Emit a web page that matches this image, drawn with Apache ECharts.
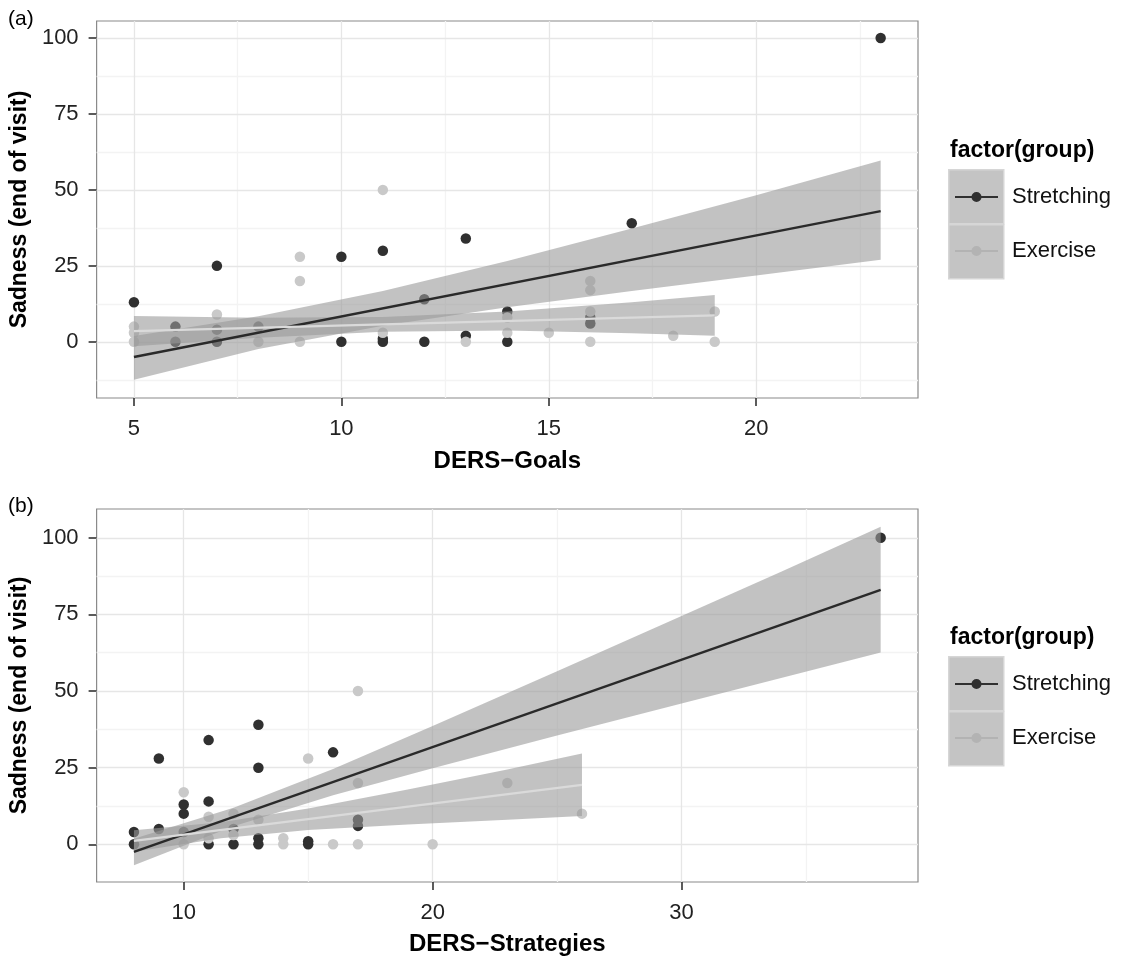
<!DOCTYPE html>
<html><head><meta charset="utf-8">
<script src="https://cdn.jsdelivr.net/npm/echarts@6.0.0/dist/echarts.min.js"></script>
<style>html,body{margin:0;padding:0;background:#fff}#c{width:1123px;height:960px}</style>
</head><body><div id="c"></div><script>
// ---------- data ----------
const groups = ['Stretching', 'Exercise'];
const sadnessTicks = [0, 25, 50, 75, 100];
const sadnessMinorA = [-12.5, 12.5, 37.5, 62.5, 87.5];
const sadnessMinorB = [12.5, 37.5, 62.5, 87.5];
const goalsTicks = [5, 10, 15, 20];
const goalsMinor = [7.5, 12.5, 17.5, 22.5];
const strategiesTicks = [10, 20, 30];
const strategiesMinor = [15, 25, 35];

// panel (a): DERS-Goals vs sadness
const goalsStretching = [[5,13],[6,5],[6,0],[7,25],[7,4],[7,0],[8,5],[10,28],[10,0],[11,30],[11,1],[11,0],[12,14],[12,0],[13,34],[13,2],[14,10],[14,0],[16,8],[16,6],[17,39],[23,100]];
const goalsExercise = [[5,5],[5,3],[5,0],[7,9],[8,0],[9,28],[9,20],[9,0],[11,50],[11,3],[13,0],[14,8],[14,3],[15,3],[16,20],[16,17],[16,10],[16,0],[18,2],[19,10],[19,0]];
const goalsStretchingFit = [[5,-5],[23,43]];
const goalsExerciseFit = [[5,3.5],[19,8.7]];
// [x, lower, upper]
const goalsStretchingBand = [[5,-12.5,1.9],[8,-2.4,8.4],[11,5.3,16.7],[14,11.4,26.6],[17,16.7,37.3],[20,21.8,48.2],[23,27.0,59.7]];
const goalsExerciseBand = [[5,-1.5,8.5],[8,1.3,7.9],[11,3.3,8.2],[14,3.7,10.0],[17,2.8,13.0],[19,2.0,15.4]];

// panel (b): DERS-Strategies vs sadness
const strategiesStretching = [[8,4],[8,0],[9,28],[9,5],[10,13],[10,10],[10,4],[11,34],[11,14],[11,0],[12,5],[12,0],[13,39],[13,25],[13,2],[13,0],[15,1],[15,0],[16,30],[17,8],[17,6],[38,100]];
const strategiesExercise = [[10,17],[10,0],[11,9],[11,2],[12,10],[12,3],[13,8],[14,2],[14,0],[15,28],[16,0],[17,50],[17,20],[17,0],[20,0],[23,20],[26,10]];
const strategiesStretchingFit = [[8,-2.5],[38,83]];
const strategiesExerciseFit = [[8,1.1],[26,19.4]];
const strategiesStretchingBand = [[8,-6.8,1.8],[12,5.9,11.9],[16,16.0,24.6],[20,24.8,38.6],[25,35.5,56.5],[30,45.9,74.5],[34,54.3,88.9],[38,62.6,103.6]];
const strategiesExerciseBand = [[8,-2.4,4.6],[11.5,2.0,7.2],[15,4.7,11.7],[19,6.5,17.9],[23,8.0,24.4],[26,9.2,29.6]];

// ---------- styles ----------
const FONT = '"Liberation Sans", Arial, Helvetica, sans-serif';
const DARK = '#303030', LIGHT = '#c9c9c9';
const BAND = 'rgba(153,153,153,0.6)';
const MAJOR = '#e6e6e6', MINOR = '#f3f3f3';

function xAxis(idx, min, max, ticks, name, gap) {
  return {
    type: 'value', gridIndex: idx, min, max, name, nameLocation: 'middle', nameGap: gap,
    nameTextStyle: {fontFamily: FONT, fontWeight: 'bold', fontSize: 24, color: '#000'},
    axisLine: {show: false, onZero: false},
    axisTick: {show: true, customValues: ticks, length: 8, lineStyle: {color: '#333', width: 1.6}},
    axisLabel: {customValues: ticks, margin: 20, fontFamily: FONT, fontSize: 22, color: '#222'},
    splitLine: {show: false}
  };
}
function yAxis(idx, min, max) {
  return {
    type: 'value', gridIndex: idx, min, max, name: 'Sadness (end of visit)', nameLocation: 'middle', nameGap: 62,
    nameTextStyle: {fontFamily: FONT, fontWeight: 'bold', fontSize: 23, color: '#000'},
    axisLine: {show: false, onZero: false},
    axisTick: {show: true, customValues: sadnessTicks, length: 8, lineStyle: {color: '#333', width: 1.6}},
    axisLabel: {customValues: sadnessTicks, margin: 18, fontFamily: FONT, fontSize: 22, color: '#222'},
    splitLine: {show: false}
  };
}
function gridLines(idx, xMaj, xMin, yMaj, yMin) {
  const d = [];
  xMin.forEach(v => d.push({xAxis: v, lineStyle: {color: MINOR, width: 1.3, type: 'solid'}}));
  yMin.forEach(v => d.push({yAxis: v, lineStyle: {color: MINOR, width: 1.3, type: 'solid'}}));
  xMaj.forEach(v => d.push({xAxis: v, lineStyle: {color: MAJOR, width: 1.3, type: 'solid'}}));
  yMaj.forEach(v => d.push({yAxis: v, lineStyle: {color: MAJOR, width: 1.3, type: 'solid'}}));
  return {type: 'line', name: 'grid' + idx, xAxisIndex: idx, yAxisIndex: idx, data: [], z: 1, silent: true,
    markLine: {z: 1, silent: true, symbol: ['none', 'none'], label: {show: false}, animation: false, emphasis: {disabled: true}, data: d}};
}
function scatter(idx, name, data, color) {
  return {type: 'scatter', name, xAxisIndex: idx, yAxisIndex: idx, data, symbolSize: 10.5, z: 2,
    itemStyle: {color, opacity: 1}, emphasis: {disabled: true}};
}
function band(idx, name, data) {
  return {type: 'custom', name, xAxisIndex: idx, yAxisIndex: idx, data, z: 3, silent: true,
    encode: {x: 0, y: [1, 2]},
    renderItem(params, api) {
      if (params.dataIndex !== 0) return null;
      const top = data.map(d => api.coord([d[0], d[2]]));
      const bot = data.slice().reverse().map(d => api.coord([d[0], d[1]]));
      return {type: 'polygon', shape: {points: top.concat(bot)}, style: {fill: BAND}};
    }};
}
function fit(idx, name, data, color) {
  return {type: 'line', name, xAxisIndex: idx, yAxisIndex: idx, data, z: 4, symbol: 'none', silent: true,
    lineStyle: {color, width: 2.4}, itemStyle: {color}};
}
const ICON = 'path://M0,4.1L43,4.1L43,5.9L0,5.9Z M26.5,5A5,5 0 1 1 16.5,5A5,5 0 1 1 26.5,5Z';
function legend(top) {
  return {
    orient: 'vertical', left: 955, top, padding: 0, itemWidth: 43, itemHeight: 10, itemGap: 32, icon: ICON,
    selectedMode: false,
    data: [{name: groups[0], itemStyle: {color: DARK}}, {name: groups[1], itemStyle: {color: '#b3b3b3'}}],
    textStyle: {fontFamily: FONT, fontSize: 22, color: '#111', lineHeight: 22, padding: [0, 0, 0, 9]}
  };
}
function keyBoxes(y0) {
  return [
    {type: 'rect', left: 948, top: y0, z: 1, shape: {width: 55, height: 54}, style: {fill: '#c4c4c4', stroke: '#d6d6d6', lineWidth: 1.5}},
    {type: 'rect', left: 948, top: y0 + 55, z: 1, shape: {width: 55, height: 54}, style: {fill: '#c4c4c4', stroke: '#d6d6d6', lineWidth: 1.5}}
  ];
}
function txt(text, left, top, size, bold) {
  return {type: 'text', left, top, z: 5, style: {text, fill: '#000', fontFamily: FONT, fontSize: size, fontWeight: bold ? 'bold' : 'normal'}};
}

const option = {
  backgroundColor: '#fff',
  animation: false,
  grid: [
    {left: 95, top: 21, width: 823, height: 377, show: true, backgroundColor: '#fff', borderColor: '#8a8a8a', borderWidth: 1.2, containLabel: false},
    {left: 95, top: 509, width: 823, height: 373, show: true, backgroundColor: '#fff', borderColor: '#8a8a8a', borderWidth: 1.2, containLabel: false}
  ],
  xAxis: [xAxis(0, 4.1, 23.9, goalsTicks, 'DERS\u2212Goals', 51), xAxis(1, 6.5, 39.5, strategiesTicks, 'DERS\u2212Strategies', 50)],
  yAxis: [yAxis(0, -18.5, 105.6), yAxis(1, -12.3, 109.4)],
  legend: [legend(186), legend(673)],
  graphic: [
    ...keyBoxes(169), ...keyBoxes(656),
    txt('factor(group)', 950, 139, 23, true),
    txt('factor(group)', 950, 626, 23, true),
    txt('(a)', 8, 9, 21, false),
    txt('(b)', 8, 496, 21, false)
  ],
  series: [
    scatter(0, groups[0], goalsStretching, DARK),
    scatter(0, groups[1], goalsExercise, LIGHT),
    scatter(1, groups[0], strategiesStretching, DARK),
    scatter(1, groups[1], strategiesExercise, LIGHT),
    gridLines(0, goalsTicks, goalsMinor, sadnessTicks, sadnessMinorA),
    gridLines(1, strategiesTicks, strategiesMinor, sadnessTicks, sadnessMinorB),
    band(0, groups[0], goalsStretchingBand),
    band(0, groups[1], goalsExerciseBand),
    band(1, groups[0], strategiesStretchingBand),
    band(1, groups[1], strategiesExerciseBand),
    fit(0, groups[0], goalsStretchingFit, '#2a2a2a'),
    fit(0, groups[1], goalsExerciseFit, '#dadada'),
    fit(1, groups[0], strategiesStretchingFit, '#2a2a2a'),
    fit(1, groups[1], strategiesExerciseFit, '#dadada')
  ]
};
const chart = echarts.init(document.getElementById('c'), null, {renderer: 'canvas'});
chart.setOption(option);
</script></body></html>
